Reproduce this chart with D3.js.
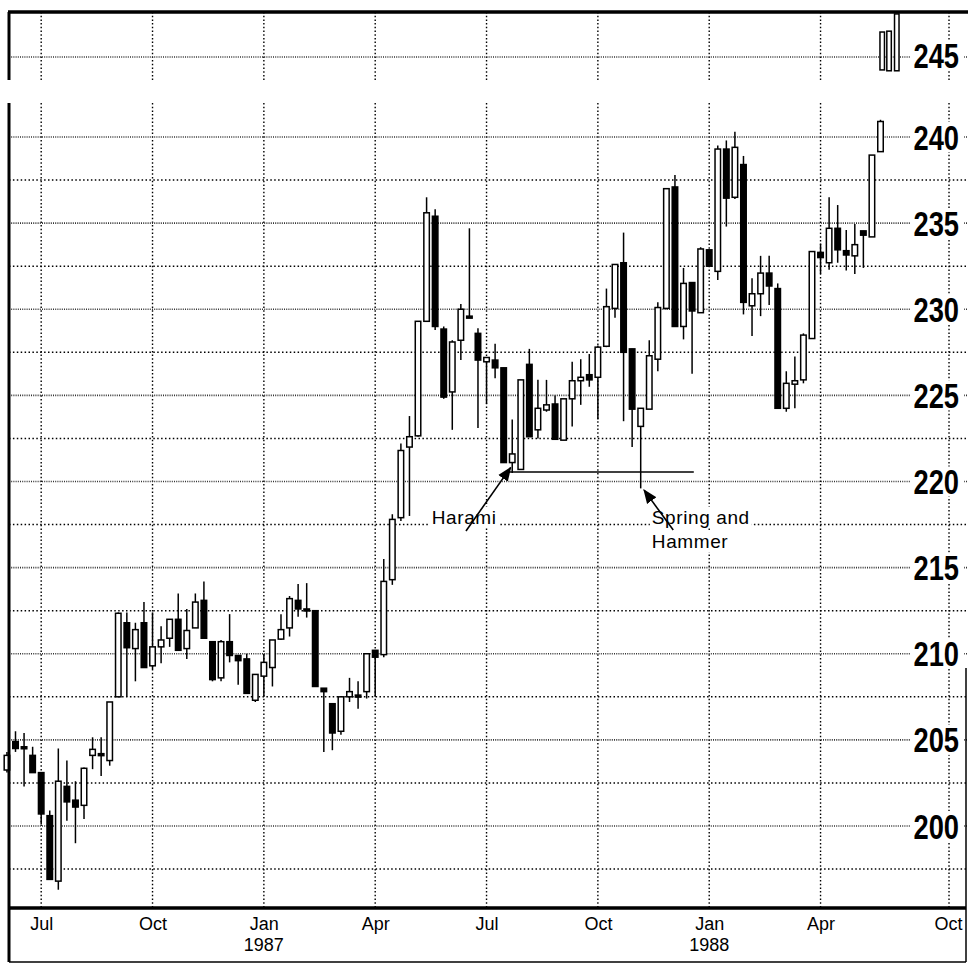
<!DOCTYPE html>
<html>
<head>
<meta charset="utf-8">
<script src="https://cdn.jsdelivr.net/npm/d3@7"></script>
<style>
  body { margin: 0; background: #fff; }
  svg { display: block; }
</style>
</head>
<body>
<svg id="chart"></svg>
<script>
// weekly candles, index -1 .. 101 (week 0 = first full candle, mid June 1986)
let firstWeek = -1

let openP = [203.25, 204.9, 204.6, 204.1, 203.1, 200.6, 196.8, 202.3, 201.5, 201.2, 204.1,
  204.2, 203.8, 207.5, 211.8, 210.3, 211.8, 209.3, 210.4, 210.9, 212.0,
  210.3, 211.5, 213.1, 210.7, 208.6, 210.7, 209.9, 209.7, 207.3, 208.7,
  209.2, 210.85, 211.5, 213.1, 212.6, 212.5, 208.0, 207.1, 205.5, 207.5,
  207.6, 207.8, 210.2, 209.95, 214.3, 217.9, 222.0, 222.65, 229.3, 235.4,
  228.85, 225.2, 228.2, 229.6, 228.6, 226.95, 227.05, 226.6, 221.1, 220.7,
  226.8, 223.0, 224.15, 224.5, 222.4, 224.8, 225.85, 226.2, 226.05, 227.85,
  230.05, 232.7, 227.7, 223.2, 224.2, 227.1, 230.05, 237.1, 229.0, 231.55,
  229.8, 233.45, 232.2, 239.3, 236.5, 238.4, 230.2, 230.9, 232.1, 231.2,
  224.25, 225.65, 225.9, 228.3, 233.3, 232.7, 234.7, 233.4, 233.1, 234.55,
  234.2, 239.15]

let closeP = [204.1, 204.5, 204.5, 203.1, 200.7, 196.9, 202.6, 201.4, 201.1, 203.35, 204.45,
  204.1, 207.2, 212.35, 210.35, 211.4, 209.2, 210.4, 210.8, 212.0, 210.2,
  211.35, 213.0, 210.9, 208.5, 210.7, 209.9, 209.6, 207.7, 208.8, 209.5,
  210.8, 211.4, 213.2, 212.6, 212.5, 208.1, 207.8, 205.4, 207.5, 207.8,
  207.5, 210.0, 209.8, 214.2, 217.8, 221.8, 222.6, 229.3, 235.6, 229.0,
  224.9, 228.1, 230.0, 229.5, 227.05, 227.2, 226.6, 221.1, 221.6, 225.9,
  222.6, 224.25, 224.45, 222.45, 224.8, 225.85, 226.05, 225.9, 227.8, 230.15,
  232.6, 227.5, 224.2, 224.25, 227.3, 230.1, 237.0, 229.0, 231.5, 229.9,
  233.5, 232.5, 239.3, 236.45, 239.4, 230.4, 230.9, 232.1, 231.35, 224.25,
  225.7, 225.85, 228.5, 233.35, 233.0, 234.7, 233.45, 233.15, 233.75, 234.3,
  238.95, 240.9]

let highP = [204.3, 205.5, 205.4, 204.6, 203.1, 200.9, 204.5, 203.8, 202.6, 203.4, 205.15,
  205.15, 207.2, 212.4, 212.4, 211.8, 213.0, 212.4, 211.6, 212.0, 213.5,
  212.6, 213.5, 214.2, 210.7, 210.8, 212.3, 209.9, 210.0, 208.8, 210.0,
  210.8, 212.3, 213.35, 214.05, 214.1, 212.5, 208.0, 207.1, 207.5, 208.6,
  208.4, 210.0, 210.2, 215.5, 218.1, 222.2, 223.8, 229.3, 236.5, 235.8,
  229.0, 228.2, 230.3, 234.7, 228.9, 227.2, 228.0, 226.6, 223.6, 225.9,
  227.7, 225.9, 225.9, 225.0, 224.8, 226.95, 227.1, 227.4, 227.9, 231.2,
  232.6, 234.45, 227.7, 224.25, 228.2, 230.4, 237.0, 237.8, 232.4, 231.55,
  233.6, 233.45, 239.5, 239.8, 240.3, 238.9, 231.8, 233.1, 233.1, 231.5,
  226.4, 227.25, 228.6, 233.35, 233.8, 236.5, 236.05, 234.6, 234.95, 234.55,
  238.95, 241.0]

let lowP = [203.1, 204.3, 202.3, 203.1, 200.1, 196.9, 196.3, 200.3, 199.0, 200.4, 203.3,
  202.9, 203.5, 207.5, 207.5, 208.4, 209.2, 209.1, 209.45, 210.4, 210.2,
  209.7, 211.5, 210.9, 208.4, 208.4, 209.5, 208.2, 207.7, 207.2, 207.5,
  208.1, 210.8, 211.0, 212.15, 212.1, 208.1, 204.3, 204.4, 205.3, 207.2,
  206.8, 207.4, 207.5, 209.8, 214.0, 217.7, 218.0, 222.6, 229.3, 228.8,
  224.8, 223.0, 227.05, 229.5, 223.1, 224.5, 226.0, 221.1, 220.5, 220.7,
  222.6, 222.5, 224.05, 222.45, 222.4, 223.2, 224.45, 225.5, 223.6, 227.8,
  229.5, 223.5, 222.0, 219.6, 224.2, 226.4, 230.0, 229.0, 228.25, 226.25,
  229.8, 232.5, 231.7, 234.8, 236.4, 229.7, 228.45, 229.6, 230.25, 224.25,
  224.05, 224.25, 225.7, 228.3, 232.05, 232.3, 232.7, 232.25, 232.05, 232.4,
  234.2, 239.15]

// candles that broke out into the top strip
let topWeeks = [101.2, 102, 102.9]
let topOpen = [244.25, 244.2, 244.2]
let topClose = [246.45, 246.5, 247.5]
let topHigh = [246.45, 246.5, 247.5]
let topLow = [244.25, 244.2, 244.2]

let priceLabels = [200, 205, 210, 215, 220, 225, 230, 235, 240]
let gridPrices = [197.5, 200, 202.5, 205, 207.5, 210, 212.5, 215, 217.5, 220, 222.5, 225,
  227.5, 230, 232.5, 235, 237.5, 240]
let topLabel = 245

let tickWeeks = [3, 16, 29, 42, 55, 68, 81, 94, 109]
let tickNames = ["Jul", "Oct", "Jan", "Apr", "Jul", "Oct", "Jan", "Apr", "Oct"]
let yearWeeks = [29, 81]
let yearNames = ["1987", "1988"]

let width = 968
let height = 970
let left = 9
let right = 966

let svg = d3.select("#chart")
  .attr("width", width)
  .attr("height", height)
  .style("font-family", "'Liberation Sans', Arial, sans-serif")

let xScale = d3.scaleLinear().domain([0, 101]).range([15.5, 880.5])
let yScale = d3.scaleLinear().domain([200, 240]).range([826, 137])
let yTop = d3.scaleLinear().domain([245, 246]).range([57, 57 - 17.225])

let mainTop = 103
let mainBottom = 908
let stripTop = 12
let stripBottom = 80

let candles = openP.map((o, i) => ({
  week: i + firstWeek, open: o, close: closeP[i], high: highP[i], low: lowP[i]
}))
let topCandles = topWeeks.map((w, i) => ({
  week: w, open: topOpen[i], close: topClose[i], high: topHigh[i], low: topLow[i]
}))

// ---- grid ----
let drawGrid = () => {
  let g = svg.append("g")
  g.selectAll(".vgrid")
    .data(tickWeeks)
    .enter()
    .append("line")
    .attr("x1", (d) => xScale(d))
    .attr("x2", (d) => xScale(d))
    .attr("y1", mainTop)
    .attr("y2", mainBottom)
    .attr("stroke", "#000")
    .attr("stroke-width", 1.4)
    .attr("stroke-dasharray", "1.5,2.2")

  g.selectAll(".vgridTop")
    .data(tickWeeks)
    .enter()
    .append("line")
    .attr("x1", (d) => xScale(d))
    .attr("x2", (d) => xScale(d))
    .attr("y1", stripTop)
    .attr("y2", stripBottom)
    .attr("stroke", "#000")
    .attr("stroke-width", 1.4)
    .attr("stroke-dasharray", "1.5,2.2")

  g.selectAll(".hgrid")
    .data(gridPrices)
    .enter()
    .append("line")
    .attr("x1", left)
    .attr("x2", width)
    .attr("y1", (d) => yScale(d))
    .attr("y2", (d) => yScale(d))
    .attr("stroke", (d) => d % 5 == 0 ? "#333" : "#000")
    .attr("stroke-width", (d) => d % 5 == 0 ? 1.6 : 1.4)
    .attr("stroke-dasharray", (d) => d % 5 == 0 ? "1,1.2" : "1.5,2.4")

  g.append("line")
    .attr("x1", left)
    .attr("x2", width)
    .attr("y1", yTop(topLabel))
    .attr("y2", yTop(topLabel))
    .attr("stroke", "#333")
    .attr("stroke-width", 1.6)
    .attr("stroke-dasharray", "1,1.2")
}

// ---- candles ----
let drawCandles = (data, y, bodyW) => {
  let g = svg.append("g")
  g.selectAll("line")
    .data(data)
    .enter()
    .append("line")
    .attr("x1", (d) => xScale(d.week))
    .attr("x2", (d) => xScale(d.week))
    .attr("y1", (d) => y(d.high))
    .attr("y2", (d) => y(d.low))
    .attr("stroke", "#000")
    .attr("stroke-width", 1.5)

  g.selectAll("rect")
    .data(data)
    .enter()
    .append("rect")
    .attr("x", (d) => xScale(d.week) - bodyW / 2)
    .attr("width", bodyW)
    .attr("y", (d) => y(Math.max(d.open, d.close)))
    .attr("height", (d) => Math.max(2, Math.abs(y(d.open) - y(d.close))))
    .attr("fill", (d) => d.close >= d.open ? "#fff" : "#000")
    .attr("stroke", "#000")
    .attr("stroke-width", 1.5)
}

// ---- labels ----
let drawPriceLabels = () => {
  let all = priceLabels.map((p) => ({ p: p, y: yScale(p) }))
  all.push({ p: topLabel, y: yTop(topLabel) - 2 })
  let g = svg.append("g")
  g.selectAll("rect")
    .data(all)
    .enter()
    .append("rect")
    .attr("x", 910)
    .attr("width", 54)
    .attr("y", (d) => d.y - 15)
    .attr("height", 30)
    .attr("fill", "#fff")
  // tall narrow numerals: draw at normal width, squeeze horizontally
  g.selectAll("text")
    .data(all)
    .enter()
    .append("text")
    .attr("transform", (d) => "translate(959," + d.y + ") scale(0.78,1)")
    .attr("dy", "0.36em")
    .attr("text-anchor", "end")
    .style("font-size", "35px")
    .style("font-weight", "bold")
    .text((d) => d.p)
}

let drawAxis = () => {
  let xAxis = d3.axisBottom(xScale)
    .tickValues(tickWeeks)
    .tickFormat((d, i) => tickNames[i])
    .tickSize(0)
    .tickPadding(9)
  let ax = svg.append("g")
    .attr("transform", "translate(0," + mainBottom + ")")
    .call(xAxis)
  ax.select(".domain").remove()
  ax.selectAll("text")
    .style("font-size", "18px")
    .style("font-family", "'Liberation Sans', Arial, sans-serif")
    .attr("fill", "#000")
  // last label sits against the right border
  ax.selectAll(".tick").filter((d) => d == 109).select("text")
    .attr("text-anchor", "end")
    .attr("dx", "13")

  svg.append("g")
    .selectAll("text")
    .data(yearWeeks)
    .enter()
    .append("text")
    .attr("x", (d) => xScale(d))
    .attr("y", 951)
    .attr("text-anchor", "middle")
    .style("font-size", "18px")
    .text((d, i) => yearNames[i])
}

let drawFrame = () => {
  // top strip
  svg.append("line").attr("x1", left - 1).attr("x2", width).attr("y1", stripTop).attr("y2", stripTop)
    .attr("stroke", "#000").attr("stroke-width", 3.5)
  svg.append("line").attr("x1", left).attr("x2", left).attr("y1", stripTop).attr("y2", stripBottom)
    .attr("stroke", "#000").attr("stroke-width", 3)
  // main panel
  svg.append("line").attr("x1", left).attr("x2", left).attr("y1", mainTop).attr("y2", 962)
    .attr("stroke", "#000").attr("stroke-width", 3)
  svg.append("line").attr("x1", left).attr("x2", right).attr("y1", mainBottom).attr("y2", mainBottom)
    .attr("stroke", "#000").attr("stroke-width", 3.5)
  svg.append("line").attr("x1", left).attr("x2", right).attr("y1", 962).attr("y2", 962)
    .attr("stroke", "#000").attr("stroke-width", 1.5)
  svg.append("line").attr("x1", right).attr("x2", right).attr("y1", 668).attr("y2", 962)
    .attr("stroke", "#000").attr("stroke-width", 1.5)
}

let drawNotes = () => {
  let g = svg.append("g")
  svg.append("defs").append("marker")
    .attr("id", "head")
    .attr("viewBox", "0 0 10 10")
    .attr("refX", 9).attr("refY", 5)
    .attr("markerWidth", 9).attr("markerHeight", 9)
    .attr("orient", "auto")
    .append("path")
    .attr("d", "M0,1 L10,5 L0,9 Z")
    .attr("fill", "#000")

  // support line under the harami / hammer lows
  g.append("line")
    .attr("x1", xScale(57.3)).attr("x2", xScale(79.2))
    .attr("y1", yScale(220.55)).attr("y2", yScale(220.55))
    .attr("stroke", "#000").attr("stroke-width", 1.4)

  let notes = [
    { lines: ["Harami"], week: 48.6, price: 217.55 },
    { lines: ["Spring and", "Hammer"], week: 74.3, price: 217.55 }
  ]
  notes.forEach((n) => {
    n.lines.forEach((t, k) => {
      let tx = g.append("text")
        .attr("x", xScale(n.week))
        .attr("y", yScale(n.price) + k * 24.5)
        .style("font-size", "19px")
        .style("letter-spacing", "0.6px")
        .text(t)
      let bb = tx.node().getBBox()
      g.insert("rect", "text")
        .attr("x", bb.x - 2).attr("y", bb.y)
        .attr("width", bb.width + 4).attr("height", bb.height)
        .attr("fill", "#fff")
    })
  })

  let arrows = [
    { from: [52.6, 217.13], to: [57.8, 220.8] },
    { from: [76.8, 217.18], to: [73.4, 219.5] }
  ]
  g.selectAll(".arrow")
    .data(arrows)
    .enter()
    .append("line")
    .attr("x1", (d) => xScale(d.from[0]))
    .attr("y1", (d) => yScale(d.from[1]))
    .attr("x2", (d) => xScale(d.to[0]))
    .attr("y2", (d) => yScale(d.to[1]))
    .attr("stroke", "#000")
    .attr("stroke-width", 1.6)
    .attr("marker-end", "url(#head)")
}

drawGrid()
drawNotes()
drawCandles(candles, yScale, 5.5)
drawCandles(topCandles, yTop, 4.5)
drawPriceLabels()
drawAxis()
drawFrame()
</script>
</body>
</html>
